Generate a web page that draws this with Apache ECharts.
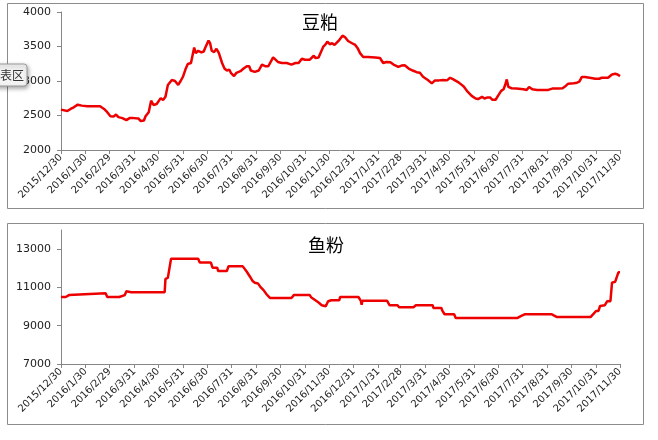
<!DOCTYPE html>
<html><head><meta charset="utf-8">
<script src="https://cdn.jsdelivr.net/npm/echarts@6/dist/echarts.min.js"></script>
<style>html,body{margin:0;padding:0;background:#fff}#c{width:658px;height:440px}</style>
</head><body><div id="c"></div>
<script>
const titles = ['豆粕', '鱼粉'];
const tickLabels = ['2015/12/30','2016/1/30','2016/2/29','2016/3/31','2016/4/30','2016/5/31','2016/6/30','2016/7/31','2016/8/31','2016/9/30','2016/10/31','2016/11/30','2016/12/31','2017/1/31','2017/2/28','2017/3/31','2017/4/30','2017/5/31','2017/6/30','2017/7/31','2017/8/31','2017/9/30','2017/10/31','2017/11/30'];
const soyYTicks = [2000, 2500, 3000, 3500, 4000];
const fishYTicks = [7000, 9000, 11000, 13000];

const soyDates = ['2015-12-30','2016-01-07','2016-01-11','2016-01-15','2016-01-20','2016-01-25','2016-02-01','2016-02-07','2016-02-17','2016-02-22','2016-02-26','2016-03-01','2016-03-05','2016-03-08','2016-03-11','2016-03-16','2016-03-21','2016-03-25','2016-03-30','2016-04-05','2016-04-08','2016-04-12','2016-04-14','2016-04-18','2016-04-21','2016-04-24','2016-04-28','2016-05-03','2016-05-06','2016-05-09','2016-05-12','2016-05-14','2016-05-17','2016-05-21','2016-05-25','2016-05-28','2016-05-31','2016-06-03','2016-06-06','2016-06-10','2016-06-14','2016-06-16','2016-06-19','2016-06-23','2016-06-26','2016-06-28','2016-07-02','2016-07-04','2016-07-06','2016-07-09','2016-07-12','2016-07-15','2016-07-19','2016-07-22','2016-07-25','2016-07-28','2016-07-30','2016-08-03','2016-08-06','2016-08-11','2016-08-15','2016-08-19','2016-08-22','2016-08-24','2016-08-29','2016-09-03','2016-09-07','2016-09-11','2016-09-15','2016-09-21','2016-09-27','2016-10-02','2016-10-08','2016-10-14','2016-10-19','2016-10-23','2016-10-27','2016-10-31','2016-11-06','2016-11-11','2016-11-13','2016-11-17','2016-11-23','2016-11-26','2016-11-28','2016-12-01','2016-12-04','2016-12-07','2016-12-12','2016-12-17','2016-12-20','2016-12-24','2016-12-29','2017-01-02','2017-01-05','2017-01-08','2017-01-12','2017-01-18','2017-01-27','2017-02-02','2017-02-06','2017-02-10','2017-02-15','2017-02-19','2017-02-25','2017-03-01','2017-03-05','2017-03-10','2017-03-15','2017-03-20','2017-03-24','2017-03-28','2017-04-03','2017-04-08','2017-04-12','2017-04-17','2017-04-22','2017-04-27','2017-05-01','2017-05-05','2017-05-12','2017-05-18','2017-05-22','2017-05-28','2017-06-02','2017-06-05','2017-06-10','2017-06-13','2017-06-17','2017-06-20','2017-06-23','2017-06-27','2017-06-30','2017-07-04','2017-07-07','2017-07-09','2017-07-11','2017-07-13','2017-07-17','2017-07-23','2017-08-01','2017-08-05','2017-08-08','2017-08-12','2017-08-18','2017-08-24','2017-09-01','2017-09-06','2017-09-13','2017-09-19','2017-09-22','2017-09-26','2017-10-03','2017-10-07','2017-10-10','2017-10-13','2017-10-17','2017-10-23','2017-10-30','2017-11-04','2017-11-07','2017-11-15','2017-11-20','2017-11-24','2017-11-27','2017-11-30'];
const soyValues = [2585,2566,2595,2619,2657,2643,2633,2633,2633,2595,2548,2490,2486,2514,2476,2462,2433,2462,2462,2457,2419,2428,2490,2548,2714,2652,2666,2752,2724,2771,2943,2943,3014,3000,2943,3000,3062,3166,3247,3261,3485,3405,3438,3414,3428,3485,3585,3547,3438,3419,3466,3404,3261,3180,3152,3166,3119,3071,3119,3142,3180,3214,3214,3152,3133,3152,3238,3214,3214,3342,3276,3261,3261,3238,3261,3261,3323,3309,3309,3366,3333,3342,3499,3533,3571,3533,3547,3523,3580,3657,3638,3580,3547,3523,3476,3404,3347,3347,3342,3333,3261,3276,3271,3238,3204,3223,3228,3180,3152,3128,3119,3061,3014,2966,3009,3009,3014,3009,3047,3023,2976,2919,2857,2785,2747,2738,2771,2747,2762,2762,2728,2728,2785,2857,2880,2942,3023,2914,2895,2890,2880,2871,2914,2880,2871,2871,2871,2890,2890,2895,2919,2961,2966,2976,2990,3057,3057,3047,3033,3033,3047,3047,3095,3104,3095,3071];

const fishDates = ['2015-12-30','2016-01-05','2016-01-07','2016-01-09','2016-01-11','2016-02-24','2016-02-26','2016-03-12','2016-03-13','2016-03-19','2016-03-21','2016-03-23','2016-03-27','2016-05-08','2016-05-09','2016-05-12','2016-05-14','2016-05-16','2016-06-19','2016-06-21','2016-07-05','2016-07-07','2016-07-13','2016-07-14','2016-07-25','2016-07-27','2016-08-14','2016-08-15','2016-08-19','2016-08-23','2016-08-26','2016-08-29','2016-09-02','2016-09-05','2016-09-09','2016-09-13','2016-09-17','2016-10-14','2016-10-17','2016-11-06','2016-11-08','2016-11-13','2016-11-17','2016-11-21','2016-11-23','2016-11-26','2016-11-29','2016-12-03','2016-12-13','2016-12-14','2017-01-06','2017-01-09','2017-01-10','2017-01-11','2017-02-11','2017-02-14','2017-02-24','2017-02-26','2017-03-16','2017-03-19','2017-04-09','2017-04-10','2017-04-20','2017-04-21','2017-04-24','2017-05-06','2017-05-08','2017-07-24','2017-07-28','2017-08-03','2017-09-05','2017-09-07','2017-09-12','2017-10-24','2017-10-28','2017-10-31','2017-11-03','2017-11-05','2017-11-11','2017-11-14','2017-11-18','2017-11-20','2017-11-24','2017-11-26','2017-11-28','2017-11-30'];
const fishValues = [10500,10500,10530,10600,10700,10700,10500,10500,10600,10600,10800,10780,10750,10750,11450,11500,11500,12500,12500,12300,12300,12030,12030,11860,11860,12100,12100,12080,11820,11560,11350,11245,11210,11030,10860,10630,10450,10450,10600,10600,10470,10330,10210,10070,9970,10020,10280,10330,10330,10500,10500,10300,10100,10300,10300,10070,10070,9965,9965,10070,10070,9930,9930,9800,9600,9600,9400,9400,9490,9600,9600,9510,9450,9450,9630,9770,9770,10030,10070,10280,10280,11250,11300,11380,11790,11790];

function dayOf(s) {
  const p = s.split(/[-\/]/).map(Number);
  return (Date.UTC(p[0], p[1] - 1, p[2]) - Date.UTC(2015, 11, 30)) / 864e5;
}
const tickDays = tickLabels.map(dayOf);
const labelOf = {};
tickDays.forEach((d, i) => { labelOf[d] = tickLabels[i]; });
const soyData = soyDates.map((d, i) => [dayOf(d), soyValues[i]]);
const fishData = fishDates.map((d, i) => [dayOf(d), fishValues[i]]);

const FONT = 'DejaVu Sans';
const axisColor = '#868686';
function xAxis(gi) {
  return {
    type: 'value', gridIndex: gi, min: 0, max: dayOf(tickLabels[tickLabels.length - 1]),
    axisLine: { lineStyle: { color: axisColor, width: 1 } },
    axisTick: { show: true, length: 4, customValues: tickDays, lineStyle: { color: axisColor } },
    axisLabel: { customValues: tickDays, rotate: 45, fontSize: 10, fontFamily: FONT, color: '#222', margin: 6,
      formatter: v => labelOf[v] || '' },
    splitLine: { show: false }
  };
}
function yAxis(gi, min, max, ticks) {
  return {
    type: 'value', gridIndex: gi, min: min, max: max,
    axisLine: { show: true, lineStyle: { color: axisColor, width: 1 } },
    axisTick: { show: true, length: 4, customValues: ticks, lineStyle: { color: axisColor } },
    axisLabel: { customValues: ticks, fontSize: 11, fontFamily: FONT, color: '#222', margin: 10,
      formatter: v => String(v) },
    splitLine: { show: false }
  };
}
const lineStyle = { color: '#ee0000', width: 2.5 };
const chart = echarts.init(document.getElementById('c'), null, { renderer: 'canvas' });
chart.setOption({
  animation: false,
  backgroundColor: '#fff',
  title: [
    { text: titles[0], left: 315, top: 8, textAlign: 'center', textStyle: { fontFamily: 'Noto Sans CJK SC', fontSize: 18, fontWeight: 'normal', color: '#000' } },
    { text: titles[1], left: 321, top: 231, textAlign: 'center', textStyle: { fontFamily: 'Noto Sans CJK SC', fontSize: 18, fontWeight: 'normal', color: '#000' } }
  ],
  grid: [
    { left: 61, top: 12, width: 559, height: 138 },
    { left: 61, top: 230, width: 559, height: 134 }
  ],
  xAxis: [xAxis(0), xAxis(1)],
  yAxis: [yAxis(0, 2000, 4000, soyYTicks), yAxis(1, 7000, 14000, fishYTicks)],
  series: [
    { type: 'line', xAxisIndex: 0, yAxisIndex: 0, data: soyData, showSymbol: false, lineStyle: lineStyle, z: 3 },
    { type: 'line', xAxisIndex: 1, yAxisIndex: 1, data: fishData, showSymbol: false, lineStyle: lineStyle, z: 3 }
  ],
  graphic: [
    { type: 'rect', shape: { x: 7.5, y: 3.5, width: 636, height: 205 }, style: { fill: 'none', stroke: '#8c8c8c', lineWidth: 1 }, z: 0, silent: true },
    { type: 'rect', shape: { x: 7.5, y: 223.5, width: 636, height: 201 }, style: { fill: 'none', stroke: '#8c8c8c', lineWidth: 1 }, z: 0, silent: true },
    { type: 'rect', shape: { x: -6, y: 64, width: 33, height: 22, r: 3 }, style: { fill: '#f4f4f4', stroke: '#9a9a9a', lineWidth: 1, shadowBlur: 4, shadowColor: 'rgba(0,0,0,0.35)', shadowOffsetX: 1, shadowOffsetY: 2 }, z: 100 },
    { type: 'text', x: 0, y: 75, style: { text: '表区', fontFamily: 'Noto Sans CJK SC', fontSize: 12, fill: '#333', verticalAlign: 'middle' }, z: 101 }
  ]
});
</script></body></html>
